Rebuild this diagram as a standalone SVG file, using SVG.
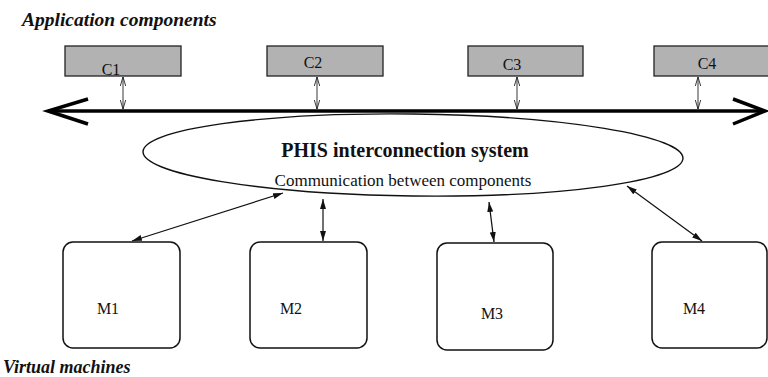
<svg xmlns="http://www.w3.org/2000/svg" width="768" height="377" viewBox="0 0 768 377">
  <style>
    .title { font-family: "Liberation Serif", "Times New Roman", serif; font-weight: bold; font-style: italic; font-size: 18px; fill: #111; }
    .comp { fill: #b2b2b2; stroke: #222; stroke-width: 1.3; }
    .clabel { font-family: "Liberation Serif", "Times New Roman", serif; font-size: 16px; fill: #111; text-anchor: middle; }
    .vm { fill: #fff; stroke: #111; stroke-width: 1.5; }
    .vmlabel { font-family: "Liberation Serif", "Times New Roman", serif; font-size: 16px; fill: #111; text-anchor: middle; }
    .link { stroke: #111; stroke-width: 1.2; fill: none; }
    .tie { stroke: #222; stroke-width: 0.9; fill: none; }
    .bus { stroke: #000; stroke-width: 3.5; fill: none; }
  </style>
  <defs>
    <marker id="solid" viewBox="0 0 10 6" refX="10" refY="3" markerWidth="10" markerHeight="6" markerUnits="userSpaceOnUse" orient="auto-start-reverse">
      <path d="M0,0 L10,3 L0,6 Z" fill="#111"/>
    </marker>
    <marker id="open" viewBox="0 0 9 6" refX="9" refY="3" markerWidth="9" markerHeight="6" markerUnits="userSpaceOnUse" orient="auto-start-reverse">
      <path d="M0,0.3 L9,3 L0,5.7" fill="none" stroke="#222" stroke-width="0.9"/>
    </marker>
  </defs>

  <rect width="768" height="377" fill="#fff"/>

  <text class="title" x="22" y="26" style="font-size:19.5px">Application components</text>
  <text class="title" x="3" y="373">Virtual machines</text>

  <!-- component boxes -->
  <g id="c1"><rect class="comp" x="65" y="46" width="116" height="30"/><text class="clabel" x="111" y="75">C1</text></g>
  <g id="c2"><rect class="comp" x="267" y="46" width="116" height="30"/><text class="clabel" x="313" y="68">C2</text></g>
  <g id="c3"><rect class="comp" x="468" y="46" width="115" height="30"/><text class="clabel" x="512" y="70">C3</text></g>
  <g id="c4"><rect class="comp" x="654" y="46" width="116" height="30"/><text class="clabel" x="707" y="69">C4</text></g>

  <!-- interconnection system -->
  <g id="phis">
    <ellipse cx="413" cy="155" rx="270" ry="41" fill="#fff" stroke="#111" stroke-width="1.4" transform="rotate(0.7 413 155)"/>
    <text x="405" y="157" font-family="Liberation Serif, Times New Roman, serif" font-weight="bold" font-size="20" text-anchor="middle" fill="#111">PHIS interconnection system</text>
    <text x="403" y="186" font-family="Liberation Serif, Times New Roman, serif" font-size="17" text-anchor="middle" fill="#111">Communication between components</text>
  </g>

  <!-- virtual machines -->
  <g id="m1"><rect class="vm" x="63" y="242" width="117" height="106" rx="10"/><text class="vmlabel" x="108" y="314">M1</text></g>
  <g id="m2"><rect class="vm" x="250" y="242" width="117" height="106" rx="10"/><text class="vmlabel" x="291" y="314">M2</text></g>
  <g id="m3"><rect class="vm" x="437" y="243" width="116" height="107" rx="10"/><text class="vmlabel" x="492" y="319">M3</text></g>
  <g id="m4"><rect class="vm" x="652" y="242" width="115" height="106" rx="10"/><text class="vmlabel" x="694" y="314">M4</text></g>

  <!-- connectors -->
  <g id="connectors">
    <!-- shared bus with open arrowheads -->
    <path class="bus" d="M48,111 L764,111"/>
    <path class="bus" d="M88,99 L48,111 L88,124"/>
    <path class="bus" d="M733,99 L765,111 L733,124"/>

    <!-- component ties to the bus -->
    <path class="tie" d="M123,77 L123,109" marker-start="url(#open)" marker-end="url(#open)"/>
    <path class="tie" d="M317,77 L317,109" marker-start="url(#open)" marker-end="url(#open)"/>
    <path class="tie" d="M517,77 L517,109" marker-start="url(#open)" marker-end="url(#open)"/>
    <path class="tie" d="M698,77 L698,109" marker-start="url(#open)" marker-end="url(#open)"/>

    <!-- interconnection system to machines -->
    <path class="link" d="M283,193 L132,241" marker-start="url(#solid)" marker-end="url(#solid)"/>
    <path class="link" d="M323,199 L323,241" marker-start="url(#solid)" marker-end="url(#solid)"/>
    <path class="link" d="M489,202 L494,242" marker-start="url(#solid)" marker-end="url(#solid)"/>
    <path class="link" d="M627,186 L702,241" marker-start="url(#solid)" marker-end="url(#solid)"/>
  </g>
</svg>
